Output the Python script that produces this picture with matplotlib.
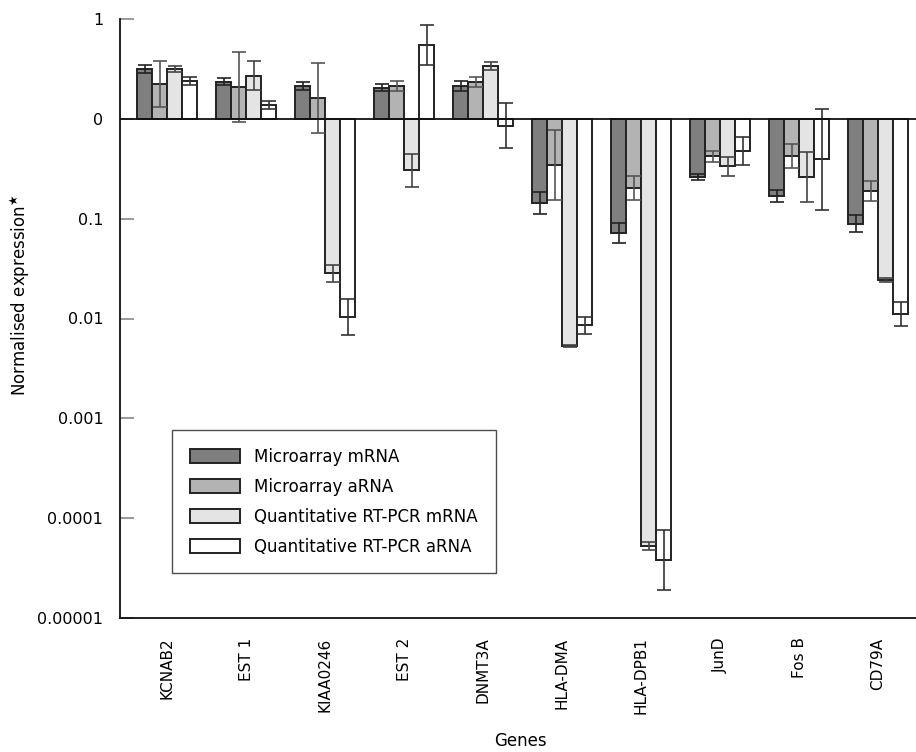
import numpy as np
import matplotlib
matplotlib.use("Agg")
import matplotlib.pyplot as plt

plt.rcParams['font.family'] = ['DejaVu Sans']

genes = ["KCNAB2", "EST 1", "KIAA0246", "EST 2", "DNMT3A",
         "HLA-DMA", "HLA-DPB1", "JunD", "Fos B", "CD79A"]
series = ["Microarray mRNA", "Microarray aRNA",
          "Quantitative RT-PCR mRNA", "Quantitative RT-PCR aRNA"]

# values in log10 units (0 = ratio 1)
micro_mrna = [0.497, 0.373, 0.327, 0.313, 0.327, -0.847, -1.147, -0.587, -0.773, -1.05]
micro_mrna_err = [0.04, 0.037, 0.04, 0.037, 0.05, 0.11, 0.10, 0.03, 0.063, 0.085]
micro_arna = [0.347, 0.323, 0.213, 0.327, 0.367, -0.46, -0.693, -0.373, -0.373, -0.727]
micro_arna_err = [0.233, 0.35, 0.35, 0.05, 0.05, 0.35, 0.12, 0.055, 0.12, 0.10]
rt_mrna = [0.503, 0.433, -1.547, -0.513, 0.533, -2.28, -4.28, -0.477, -0.58, -1.613]
rt_mrna_err = [0.03, 0.145, 0.085, 0.165, 0.04, 0.01, 0.04, 0.095, 0.25, 0.017]
rt_arna = [0.38, 0.143, -1.987, 0.737, -0.067, -2.067, -4.417, -0.323, -0.407, -1.953]
rt_arna_err = [0.037, 0.04, 0.18, 0.2, 0.23, 0.085, 0.3, 0.14, 0.51, 0.12]

ytick_vals = [1, 0, -1, -2, -3, -4, -5]
ytick_labels = ["1", "0", "0.1", "0.01", "0.001", "0.0001", "0.00001"]

values = [micro_mrna, micro_arna, rt_mrna, rt_arna]
errors = [micro_mrna_err, micro_arna_err, rt_mrna_err, rt_arna_err]
colors = ["#7f7f7f", "#b3b3b3", "#e4e4e4", "#ffffff"]
ecolors = ["#222222", "#555555", "#444444", "#333333"]

fig = plt.figure(figsize=(9.16, 7.52), dpi=100)
ax = fig.add_axes([120 / 916, 1 - 618 / 752, 796 / 916, 599 / 752])

x = np.arange(len(genes))
w = 0.19
for i, (vals, errs, c, ec) in enumerate(zip(values, errors, colors, ecolors)):
    pos = x + (i - 1.5) * w
    ax.bar(pos, vals, width=w, color=c, edgecolor="#222222", linewidth=1.4,
           label=series[i], zorder=2)
    ax.errorbar(pos, vals, yerr=errs, fmt="none", ecolor=ec, elinewidth=1.2,
                capsize=5, capthick=1.2, zorder=3)

ax.axhline(0, color="#111111", linewidth=1.3, zorder=4)

ax.set_xlim(-0.6, 9.48)
ax.set_ylim(-5, 1)
ax.set_yticks(ytick_vals)
ax.set_yticklabels(ytick_labels, fontsize=11.5)
ax.tick_params(axis="y", direction="in", length=10, width=1.2, color="#888888", pad=12)
ax.set_xticks(x)
ax.set_xticklabels(genes, rotation=90, fontsize=11)
ax.tick_params(axis="x", length=0, pad=14)

for s in ["top", "right"]:
    ax.spines[s].set_visible(False)
for s in ["left", "bottom"]:
    ax.spines[s].set_linewidth(1.3)
    ax.spines[s].set_color("#111111")

ax.set_ylabel("Normalised expression$^{\\bigstar}$", fontsize=12)
ax.yaxis.set_label_coords(-0.11, 0.54)
ax.set_xlabel("Genes", fontsize=12)
ax.xaxis.set_label_coords(0.503, -0.19)

leg = ax.legend(loc="upper left", bbox_to_anchor=(52 / 796, (618 - 430) / 599),
                fontsize=12, frameon=True, fancybox=False, edgecolor="#222222",
                handlelength=3.0, handleheight=0.9, labelspacing=0.72,
                borderpad=1.05, handletextpad=0.9, borderaxespad=0)
leg.get_frame().set_linewidth(1.0)

fig.savefig("out.png", dpi=100)
